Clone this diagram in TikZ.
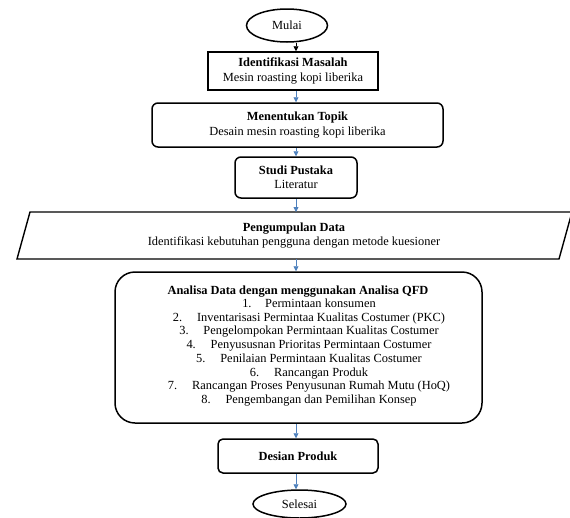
\documentclass[tikz,border=0pt]{standalone}
\usepackage{fontspec}
\setmainfont{Liberation Serif}
\usetikzlibrary{shapes.geometric,arrows.meta}
\definecolor{arrblue}{HTML}{4F81BD}
\begin{document}
\begin{tikzpicture}[x=1pt,y=-1pt,
  txt/.style={font=\fontsize{12.4}{14.5}\selectfont, align=center, inner sep=0pt},
  box/.style={draw, line width=1.5pt, inner sep=0pt, txt},
  rbox/.style={box, rounded corners=6pt},
  term/.style={draw, ellipse, line width=1.5pt, inner sep=0pt, txt},
  arr/.style={draw=arrblue, line width=0.8pt, -{Triangle[length=5pt,width=5pt]}},
  barr/.style={draw=black, line width=0.8pt, -{Triangle[length=5pt,width=5pt]}}
]
\useasboundingbox (0,0) rectangle (570,517);
% arrow axis
\coordinate (ax) at (296,0);
% nodes
\node[term, minimum width=81pt, minimum height=33pt] (mulai) at (287,25.5) {Mulai};
\node[box, minimum width=170pt, minimum height=38pt] (ident) at (293,71) {\textbf{Identifikasi Masalah}\\Mesin roasting kopi liberika};
\node[rbox, minimum width=291pt, minimum height=44pt] (ment) at (297.5,125) {\textbf{Menentukan Topik}\\Desain mesin roasting kopi liberika};
\node[rbox, minimum width=122pt, minimum height=41pt] (studi) at (296,177.5) {\textbf{Studi Pustaka}\\Literatur};
\draw[line width=1.4pt] (30,212) -- (572,212) -- (559,259) -- (17,259) -- cycle;
\coordinate (pdtop) at (296,212);
\coordinate (pdbot) at (296,259);
\node[txt] (pd) at (294,235.5) {\textbf{Pengumpulan Data}\\Identifikasi kebutuhan pengguna dengan metode kuesioner};
\node[box, rounded corners=20pt, minimum width=367pt, minimum height=151pt] (qfd) at (298.5,347.5) {};
\node[txt] (qtitle) at (298,292) {\textbf{Analisa Data dengan menggunakan Analisa QFD}};
\node[txt, font=\fontsize{12.4}{13.7}\selectfont] (qlist) at (309,352.5) {%
1.\hspace{1.1em}Permintaan konsumen\\
2.\hspace{1.2em}Inventarisasi Permintaa Kualitas Costumer (PKC)\\
3.\hspace{1.2em}Pengelompokan Permintaan Kualitas Costumer\\
4.\hspace{1.2em}Penyususnan Prioritas Permintaan Costumer\\
5.\hspace{1.2em}Penilaian Permintaan Kualitas Costumer\\
6.\hspace{1.2em}Rancangan Produk\\
7.\hspace{1.2em}Rancangan Proses Penyusunan Rumah Mutu (HoQ)\\
8.\hspace{1.2em}Pengembangan dan Pemilihan Konsep};
\node[rbox, rounded corners=5pt, minimum width=160pt, minimum height=34pt] (desian) at (298,456) {\textbf{Desian Produk}};
\node[term, minimum width=93pt, minimum height=28pt] (selesai) at (299.5,504) {Selesai};
% connectors
\draw[barr] (mulai.south -| ax) -- (ident.north -| ax);
\draw[arr] (ident.south -| ax) -- (ment.north -| ax);
\draw[arr] (ment.south -| ax) -- (studi.north -| ax);
\draw[arr] (studi.south -| ax) -- (pdtop);
\draw[arr] (pdbot) -- (qfd.north -| ax);
\draw[arr] (qfd.south -| ax) -- (desian.north -| ax);
\draw[arr] (desian.south -| ax) -- (selesai.north -| ax);
\end{tikzpicture}
\end{document}
